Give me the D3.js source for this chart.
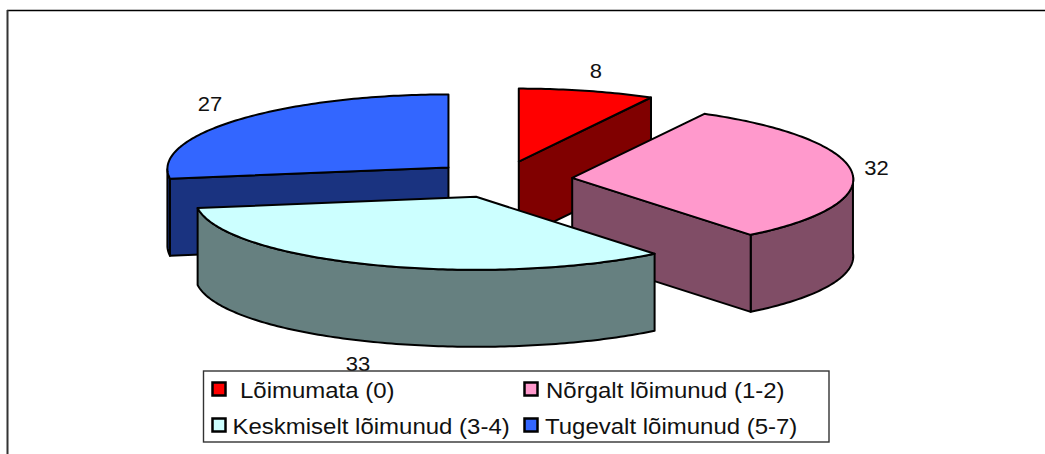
<!DOCTYPE html>
<html>
<head>
<meta charset="utf-8">
<script src="https://cdn.jsdelivr.net/npm/d3@7"></script>
<style>
  html, body { margin: 0; padding: 0; background: #fff; overflow: hidden; }
  text { font-family: "Liberation Sans", Arial, sans-serif; fill: #111; }
</style>
</head>
<body>
<script>
var categories = ["Lõimumata (0)", "Nõrgalt lõimunud (1-2)", "Keskmiselt lõimunud (3-4)", "Tugevalt lõimunud (5-7)"];
var values = [8, 32, 33, 27];
var topColors = ["#ff0000", "#ff99cc", "#ccffff", "#3366ff"];
var sideColors = ["#800000", "#804d66", "#668080", "#1a3380"];

var width = 1045, height = 454;
var CX = 501.5, CY = 179.5;
var RX = 281, RY = 73, DEPTH = 77;
var EXPLODE = 0.253;
var WARP = 3 * Math.PI / 180; // perspective pulls the front angles a bit forward
var PERSP = 0.02; // and makes the back a bit narrower

var svg = d3.select("body").append("svg")
    .attr("width", width)
    .attr("height", height);

// frame, the chart area is cut off right and below
svg.append("line").attr("x1", 7).attr("x2", width).attr("y1", 10.5).attr("y2", 10.5)
    .attr("stroke", "#000").attr("stroke-width", 1.5);
svg.append("line").attr("x1", 7.5).attr("x2", 7.5).attr("y1", 10).attr("y2", height)
    .attr("stroke", "#333").attr("stroke-width", 2);

var pie = d3.pie().sort(null).startAngle(0).endAngle(2 * Math.PI);
var slices = pie(values);

function warp(a) { return a - WARP * (1 - Math.cos(a)) / 2; }
function px(a) { var w = warp(a); return RX * Math.sin(w) * (1 - PERSP * Math.cos(w)); }
function py(a) { return -RY * Math.cos(warp(a)); }

slices.forEach(function(d) {
  var mid = (d.startAngle + d.endAngle) / 2;
  d.ox = CX + EXPLODE * px(mid);
  d.oy = CY + EXPLODE * py(mid);
  d.point = function(a, dz) { return [d.ox + px(a), d.oy + py(a) + (dz || 0)]; };
});

function arcPoints(d, a0, a1, dz) {
  var n = Math.max(2, Math.ceil((a1 - a0) * 60));
  return d3.range(n + 1).map(function(i) { return d.point(a0 + (a1 - a0) * i / n, dz); });
}

var line = d3.line();

// draw back to front: red, blue, pink, cyan
var order = [0, 3, 1, 2];

var g = svg.selectAll(".slice")
    .data(order.map(function(i) { return slices[i]; }))
    .enter().append("g")
    .attr("class", "slice")
    .attr("stroke", "#000")
    .attr("stroke-width", 2)
    .attr("stroke-linejoin", "round");

g.each(function(d) {
  var s = d3.select(this);
  var side = sideColors[d.index];
  var apex = [d.ox, d.oy], apexLow = [d.ox, d.oy + DEPTH];

  // outer wall, only the part turned to the viewer
  var a0 = Math.max(d.startAngle, Math.PI / 2), a1 = Math.min(d.endAngle, 3 * Math.PI / 2);
  if (a1 > a0) {
    var pts = arcPoints(d, a0, a1, 0).concat(arcPoints(d, a0, a1, DEPTH).reverse());
    s.append("path").attr("d", line(pts) + "Z").attr("fill", side);
  }

  // cut faces
  if (Math.sin(d.startAngle) < -1e-6) {
    s.append("path")
      .attr("d", line([apex, d.point(d.startAngle), d.point(d.startAngle, DEPTH), apexLow]) + "Z")
      .attr("fill", side);
  }
  if (Math.sin(d.endAngle) > 1e-6) {
    s.append("path")
      .attr("d", line([apex, d.point(d.endAngle), d.point(d.endAngle, DEPTH), apexLow]) + "Z")
      .attr("fill", side);
  }

  // top
  s.append("path")
    .attr("d", line([apex].concat(arcPoints(d, d.startAngle, d.endAngle, 0))) + "Z")
    .attr("fill", topColors[d.index]);
});

// the original text is wider than the font, stretch it without moving the anchor
function stretch(sel, k) {
  sel.attr("textLength", function() { return this.getComputedTextLength() * k; })
     .attr("lengthAdjust", "spacingAndGlyphs");
}

// data labels
var labelX = [596, 876.5, 358, 210];
var labelY = [78, 175, 371, 111];
svg.selectAll(".lab")
    .data(values)
    .enter().append("text")
    .attr("class", "lab")
    .attr("x", function(d, i) { return labelX[i]; })
    .attr("y", function(d, i) { return labelY[i]; })
    .attr("text-anchor", "middle")
    .attr("font-size", 20)
    .text(function(d) { return d; })
    .call(stretch, 1.1);

// legend
var legend = svg.append("g");
legend.append("rect")
    .attr("x", 203.5).attr("y", 371).attr("width", 625.5).attr("height", 71)
    .attr("fill", "#fff").attr("stroke", "#333").attr("stroke-width", 1.4);

var colX = d3.scaleOrdinal().domain([0, 1]).range([212.5, 524.5]);
var rowY = d3.scaleOrdinal().domain([0, 1]).range([382.5, 418.5]);
var textX = [240, 546, 232.5, 545];

var item = legend.selectAll(".item")
    .data(categories)
    .enter().append("g")
    .attr("class", "item");

item.append("rect")
    .attr("x", function(d, i) { return colX(i % 2); })
    .attr("y", function(d, i) { return rowY(i >> 1); })
    .attr("width", 13)
    .attr("height", 13)
    .attr("fill", function(d, i) { return topColors[i]; })
    .attr("stroke", "#000")
    .attr("stroke-width", 2.5);

item.append("text")
    .attr("x", function(d, i) { return textX[i]; })
    .attr("y", function(d, i) { return rowY(i >> 1) + 15.3; })
    .attr("font-size", 22)
    .text(function(d) { return d; })
    .call(stretch, 1.09);
</script>
</body>
</html>
